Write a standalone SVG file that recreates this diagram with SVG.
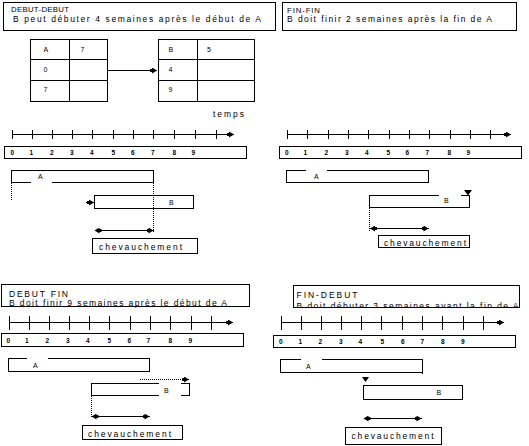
<svg xmlns="http://www.w3.org/2000/svg" width="529" height="446" viewBox="0 0 529 446">
<style>
.ln{fill:none;stroke:#000;stroke-width:1;shape-rendering:crispEdges}
.dot{fill:none;stroke:#000;stroke-width:1;stroke-dasharray:1,1;shape-rendering:crispEdges}
.t{font-family:"Liberation Sans",Arial,sans-serif;font-size:8.5px;fill:#000}
.h{font-family:"Liberation Sans",Arial,sans-serif;font-size:7.8px;fill:#000}
.s{font-family:"Liberation Sans",Arial,sans-serif;font-size:7px;fill:#000}
.d{font-family:"Liberation Sans",Arial,sans-serif;font-size:6.5px;fill:#000;font-weight:bold}
.tri{fill:#000}
</style>
<defs>
<marker id="ah" markerUnits="userSpaceOnUse" markerWidth="8" markerHeight="6" refX="7" refY="3" orient="auto-start-reverse"><path d="M0,1.5 H2 V0 L7,3 L2,6 V4.5 H0 Z" fill="#000"/></marker>
<clipPath id="c4"><rect x="294" y="286" width="225" height="21"/></clipPath>
</defs>

<g id="panel-debut-debut">
<g id="title1"><rect class="ln" x="3.5" y="2.5" width="272" height="28"/>
<text class="h" x="11" y="12" textLength="58" lengthAdjust="spacing">DEBUT-DEBUT</text>
<text class="t" x="13" y="21.5" textLength="248" lengthAdjust="spacing">B peut débuter 4 semaines après le début de A</text></g>
<g id="tableA"><rect class="ln" x="30.5" y="39.5" width="77" height="62"/>
<path class="ln" d="M69.5,39.5V101.5M30.5,59.5H107.5M30.5,80.5H107.5"/>
<text class="s" x="43.5" y="51.5">A</text><text class="s" x="80.5" y="51.5">7</text>
<text class="s" x="43.5" y="72">0</text><text class="s" x="43.5" y="92">7</text></g>
<g id="tableB"><rect class="ln" x="158.5" y="39.5" width="96" height="62"/>
<path class="ln" d="M197.5,39.5V101.5M158.5,59.5H254.5M158.5,80.5H254.5"/>
<text class="s" x="168.5" y="51.5">B</text><text class="s" x="207" y="51.5">5</text>
<text class="s" x="168.5" y="72">4</text><text class="s" x="168.5" y="92">9</text></g>
<text class="t" x="213" y="116.5" textLength="31" lengthAdjust="spacing">temps</text>
<g id="axis1"><path class="ln" d="M12.5,134.5H234" marker-end="url(#ah)"/>
<path class="ln" d="M12.5,130V139M32.5,130V139M52.5,130V139M72.5,130V139M92.5,130V139M113.5,130V139M133.5,130V139M153.5,130V139M174.5,130V139M195.5,130V139M216.5,130V139"/>
<rect class="ln" x="4.5" y="146.5" width="242" height="12"/>
<text class="d" y="155"><tspan x="10.5">0</tspan><tspan x="29.5">1</tspan><tspan x="50">2</tspan><tspan x="70">3</tspan><tspan x="90">4</tspan><tspan x="111.5">5</tspan><tspan x="131">6</tspan><tspan x="151">7</tspan><tspan x="172.5">8</tspan><tspan x="191.5">9</tspan></text></g>
<g id="barA1"><path class="ln" d="M31,182.5H11.5V170.5H153.5V182.5H52"/><text class="s" x="38" y="179">A</text></g>
<g id="barB1"><rect class="ln" x="94.5" y="195.5" width="99" height="13"/><text class="s" x="169" y="205">B</text></g>
<g id="overlap1"><rect class="ln" x="92.5" y="238.5" width="105" height="15"/>
<text class="t" x="99" y="250" textLength="83" lengthAdjust="spacing">chevauchement</text></g>
</g>

<g id="panel-fin-fin">
<g id="title2"><rect class="ln" x="282.5" y="2.5" width="234" height="28"/>
<text class="h" x="287" y="13" textLength="33" lengthAdjust="spacing">FIN-FIN</text>
<text class="t" x="287" y="21.5" textLength="205" lengthAdjust="spacing">B doit finir 2 semaines après la fin de A</text></g>
<g id="axis2"><path class="ln" d="M287.5,134.5H511" marker-end="url(#ah)"/>
<path class="ln" d="M287.5,130V139M307.5,130V139M328.5,130V139M348.5,130V139M368.5,130V139M389.5,130V139M409.5,130V139M429.5,130V139M450.5,130V139M470.5,130V139M490.5,130V139"/>
<rect class="ln" x="279.5" y="146.5" width="242" height="12"/>
<text class="d" y="155"><tspan x="285">0</tspan><tspan x="303.5">1</tspan><tspan x="324.5">2</tspan><tspan x="345">3</tspan><tspan x="365">4</tspan><tspan x="386.5">5</tspan><tspan x="405.5">6</tspan><tspan x="425.5">7</tspan><tspan x="447.5">8</tspan><tspan x="466.5">9</tspan></text></g>
<g id="barA2"><path class="ln" d="M306,170.5H286.5V182.5H428.5V170.5H327"/><text class="s" x="314" y="179">A</text></g>
<g id="barB2"><path class="ln" d="M438.5,195.5H369.5V207.5H469.5V195.5H461"/><text class="s" x="444" y="202.5">B</text>
<polygon class="tri" points="464,190 472,190 468,195.5"/></g>
<g id="overlap2"><rect class="ln" x="378.5" y="235.5" width="91" height="12"/>
<text class="t" x="384" y="245.5" textLength="82" lengthAdjust="spacing">chevauchement</text></g>
</g>

<g id="panel-debut-fin">
<g id="title3"><rect class="ln" x="1.5" y="284.5" width="248" height="22"/>
<text class="t" x="9" y="296.5" textLength="59" lengthAdjust="spacing">DEBUT FIN</text>
<text class="t" x="9" y="305.5" textLength="218" lengthAdjust="spacing">B doit finir 9 semaines après le début de A</text></g>
<g id="axis3"><path class="ln" d="M9.5,322.5H233" marker-end="url(#ah)"/>
<path class="ln" d="M9.5,316V330M29.5,316V330M49.5,316V330M69.5,316V330M89.5,316V330M109.5,316V330M130.5,316V330M150.5,316V330M170.5,316V330M191.5,316V330M211.5,316V330"/>
<rect class="ln" x="1.5" y="333.5" width="242" height="13"/>
<text class="d" y="342.5"><tspan x="6.5">0</tspan><tspan x="25">1</tspan><tspan x="45.5">2</tspan><tspan x="66">3</tspan><tspan x="86">4</tspan><tspan x="107.5">5</tspan><tspan x="127.5">6</tspan><tspan x="146.5">7</tspan><tspan x="168.5">8</tspan><tspan x="188.5">9</tspan></text></g>
<g id="barA3"><path class="ln" d="M27,358.5H8.5V371.5H149.5V358.5H48"/><text class="s" x="33" y="367.5">A</text></g>
<g id="barB3"><path class="ln" d="M159,383.5H91.5V395.5H159M180.5,383.5H189.5V395.5H180.5"/><text class="s" x="164" y="392.5">B</text></g>
<g id="overlap3"><rect class="ln" x="82.5" y="425.5" width="100" height="14"/>
<text class="t" x="88" y="436.5" textLength="83" lengthAdjust="spacing">chevauchement</text></g>
</g>

<g id="panel-fin-debut">
<g id="title4"><text class="t" x="296.5" y="297.5" textLength="61" lengthAdjust="spacing">FIN-DEBUT</text>
<text class="t" x="296.5" y="308.5" textLength="222" lengthAdjust="spacing" clip-path="url(#c4)">B doit débuter 3 semaines avant la fin de A</text>
<rect class="ln" x="293.5" y="285.5" width="226" height="22"/></g>
<g id="axis4"><path class="ln" d="M281.5,322.5H504" marker-end="url(#ah)"/>
<path class="ln" d="M281.5,316V330M301.5,316V330M321.5,316V330M341.5,316V330M361.5,316V330M381.5,316V330M402.5,316V330M422.5,316V330M442.5,316V330M463.5,316V330M483.5,316V330"/>
<rect class="ln" x="273.5" y="335.5" width="242" height="12"/>
<text class="d" y="344"><tspan x="279">0</tspan><tspan x="298.5">1</tspan><tspan x="318.5">2</tspan><tspan x="339">3</tspan><tspan x="358.5">4</tspan><tspan x="380.5">5</tspan><tspan x="401">6</tspan><tspan x="420.5">7</tspan><tspan x="441">8</tspan><tspan x="461">9</tspan></text></g>
<g id="barA4"><path class="ln" d="M300.5,359.5H280.5V372.5H422.5M422.5,374V359.5H321.5"/><text class="s" x="306" y="369">A</text></g>
<g id="barB4"><rect class="ln" x="363.5" y="385.5" width="99" height="14"/><text class="s" x="436.5" y="394.5">B</text>
<polygon class="tri" points="362,377 369,377 365.5,382"/></g>
<g id="overlap4"><rect class="ln" x="345.5" y="427.5" width="96" height="17"/>
<text class="t" x="351.5" y="439" textLength="82" lengthAdjust="spacing">chevauchement</text></g>
</g>

<g id="connectors">
<path class="ln" d="M107.5,70.5H157" marker-end="url(#ah)"/>
<path class="dot" d="M11.5,183V200.5"/>
<path class="dot" d="M153.5,183V231.5"/>
<path class="ln" d="M86,202.5H94" marker-end="url(#ah)"/>
<path class="ln" d="M94.5,230.5H153.5" marker-start="url(#ah)" marker-end="url(#ah)"/>
<path class="dot" d="M369.5,208V231"/>
<path class="ln" d="M370,228.5H428.5" marker-start="url(#ah)" marker-end="url(#ah)"/>
<path class="dot" d="M140,379.5H189" marker-end="url(#ah)"/>
<path class="dot" d="M91.5,396V416.5"/>
<path class="ln" d="M91.5,416.5H149.5" marker-start="url(#ah)" marker-end="url(#ah)"/>
<path class="ln" d="M363.5,418.5H421.5" marker-start="url(#ah)" marker-end="url(#ah)"/>
</g>
</svg>
